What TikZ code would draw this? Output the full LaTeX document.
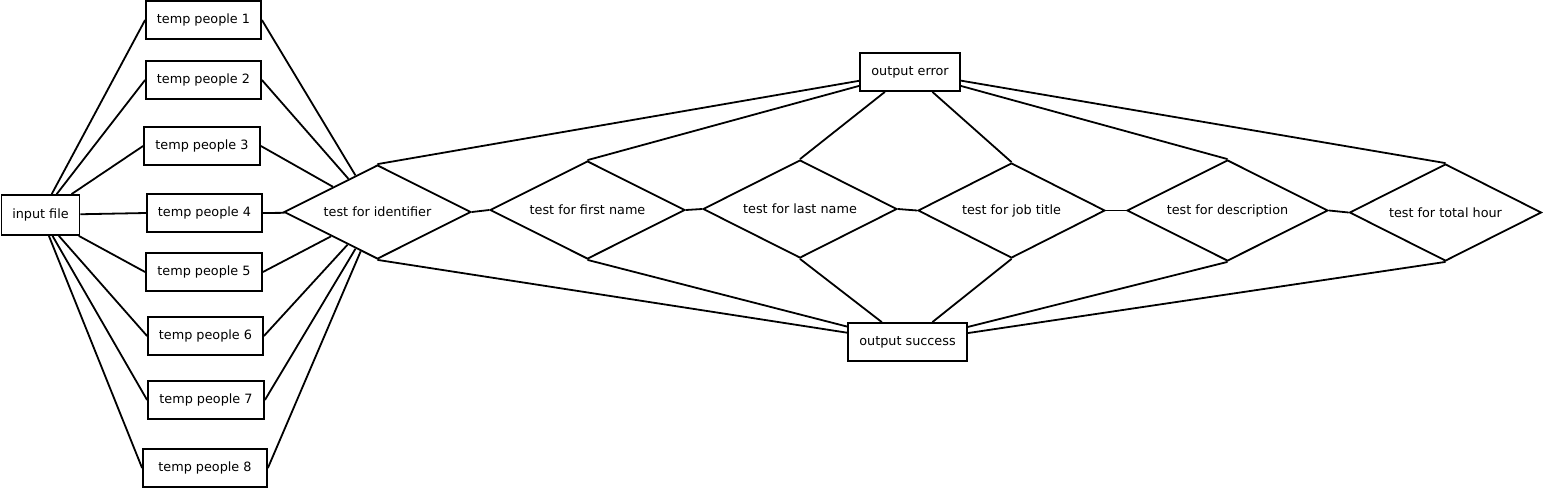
\documentclass[tikz,border=0pt]{standalone}
\usepackage{fontspec}
\setmainfont{DejaVu Sans}
\usetikzlibrary{shapes.geometric}
\tikzset{
  box/.style={draw, line width=1.8pt, rectangle, inner sep=0pt, minimum height=38pt, font=\fontsize{12.8}{15}\selectfont},
  test/.style={draw, line width=1.8pt, diamond, aspect=2, inner sep=0pt, font=\fontsize{12.8}{15}\selectfont},
  link/.style={line width=1.8pt}
}
\begin{document}
\begin{tikzpicture}[x=1pt, y=-1pt]
\useasboundingbox (0,0) rectangle (1543,488);
\node[box, minimum width=78pt, minimum height=40pt] (inp) at (40.5,215) {input file};
\node[box, minimum width=115pt] (tp1) at (203.5,20) {temp people 1};
\node[box, minimum width=115pt] (tp2) at (203.5,80) {temp people 2};
\node[box, minimum width=116pt] (tp3) at (202,146) {temp people 3};
\node[box, minimum width=115pt] (tp4) at (204.5,213) {temp people 4};
\node[box, minimum width=116pt] (tp5) at (204,272) {temp people 5};
\node[box, minimum width=115pt] (tp6) at (205.5,336) {temp people 6};
\node[box, minimum width=116pt] (tp7) at (206,400) {temp people 7};
\node[box, minimum width=124pt] (tp8) at (205,468) {temp people 8};

\node[test, minimum width=187pt, minimum height=94pt] (id) at (377.5,212) {test for identifier};
\node[test, minimum width=195pt, minimum height=98pt] (fn) at (587.5,210) {test for first name};
\node[test, minimum width=194pt, minimum height=98pt] (ln) at (800,209) {test for last name};
\node[test, minimum width=187pt, minimum height=95pt] (jt) at (1011.5,210.5) {test for job title};
\node[test, minimum width=201pt, minimum height=101pt] (ds) at (1227.5,210.5) {test for description};
\node[test, minimum width=192pt, minimum height=97pt] (th) at (1445.5,212.5) {test for total hour};

\node[box, minimum width=100pt] (err) at (910,72) {output error};
\node[box, minimum width=119pt] (suc) at (907.5,342) {output success};

\foreach \t in {tp1,tp2,tp3,tp4,tp5,tp6,tp7,tp8} {
  \draw[link] (inp) -- (\t.west);
  \draw[link] (\t.east) -- (id);
}
\draw[link] (id.east) -- (fn.west);
\draw[link] (fn.east) -- (ln.west);
\draw[link] (ln.east) -- (jt.west);
\draw[link] (jt.east) -- (ds.west);
\draw[link] (ds.east) -- (th.west);
\foreach \d in {id,fn,ln,jt,ds,th} {
  \draw[link] (\d.north) -- (err);
  \draw[link] (\d.south) -- (suc);
}
\end{tikzpicture}
\end{document}
